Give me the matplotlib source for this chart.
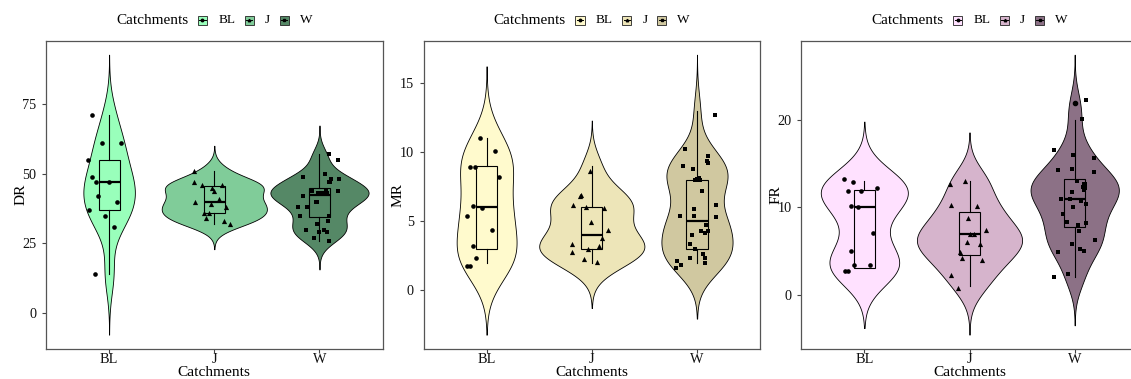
import numpy as np
import matplotlib
matplotlib.use('Agg')
import matplotlib.pyplot as plt
from matplotlib.patches import Rectangle
from matplotlib.lines import Line2D
from matplotlib.offsetbox import AnchoredOffsetbox, HPacker, TextArea, DrawingArea

plt.rcParams['font.family'] = ['Liberation Serif', 'DejaVu Serif']

# Data ~~~~~~~~~~~~~~~~~~~~~~~~~~~~~~~~~~~~~~~~~~~~~~~~~~~~~~~~~~~~~~~~~~~~~~~~~~~
groups = ['BL', 'J', 'W']
group_markers = ['o', '^', 's']

# DR (jx = horizontal jitter in category units)
dr_bl = [71, 61, 61, 55, 49, 47, 47, 42, 40, 37, 35, 31, 14]
dr_bl_jx = [-0.165, -0.064, 0.114, -0.197, -0.159, -0.127, 0.0, -0.108, 0.079, -0.19, -0.038, 0.05, -0.133]
dr_j = [51, 47, 46, 45, 44, 46, 41, 40, 39, 38, 36, 36, 34, 33, 32]
dr_j_jx = [-0.19, -0.19, -0.12, -0.02, 0.0, 0.07, 0.04, -0.18, -0.03, 0.11, -0.10, -0.05, -0.08, 0.09, 0.15]
dr_w = [57, 55, 50, 49, 48, 48, 47, 47, 44, 44, 44, 43, 43, 43, 43, 43,
        42, 40, 40, 40, 38, 38, 35, 35, 33, 32, 30, 30, 29, 29, 27, 26]
dr_w_jx = [0.095, 0.18, 0.05, -0.16, 0.11, 0.185, 0.09, 0.10, 0.064, 0.18, -0.07, -0.015, 0.01, 0.03, 0.057, 0.076,
           -0.16, -0.036, -0.03, -0.02, -0.114, -0.2, 0.095, -0.19, 0.085, -0.02, -0.125, 0.04, 0.0, 0.07, -0.05, 0.095]

# MR (jy = vertical jitter seen in the picture)
mr_bl = [11, 10, 9, 9, 8, 6, 6, 5, 4, 3, 2, 2, 2]
mr_bl_jx = [-0.06, 0.08, -0.16, -0.11, 0.117, -0.13, -0.04, -0.19, 0.053, -0.13, -0.10, -0.19, -0.16]
mr_bl_jy = [0.05, 0.1, -0.1, -0.1, 0.2, 0.08, -0.02, 0.35, 0.37, 0.23, 0.34, -0.24, -0.24]
mr_j = [9, 7, 7, 6, 6, 6, 5, 4, 4, 3, 3, 3, 3, 2, 2]
mr_j_jx = [-0.016, -0.11, -0.10, -0.175, -0.054, 0.114, -0.007, 0.152, 0.098, -0.188, 0.072, -0.032, -0.188, -0.076, 0.048]
mr_j_jy = [-0.34, -0.2, -0.1, 0.2, 0.05, -0.07, -0.06, 0.39, -0.19, 0.35, 0.2, 0.0, -0.2, 0.24, 0.05]
mr_w = [13, 10, 10, 9, 9, 9, 9, 8, 8, 8, 8, 8, 7, 6, 6, 5,
        5, 5, 5, 4, 4, 4, 4, 3, 3, 3, 2, 2, 2, 2, 2, 2]
mr_w_jx = [0.175, -0.11, 0.105, 0.095, 0.1, -0.133, -0.034, 0.02, 0.03, -0.015, 0.0, 0.02, 0.048, 0.178, -0.03, 0.185,
           -0.158, -0.03, 0.086, 0.035, 0.073, 0.105, -0.048, -0.067, -0.015, 0.06, -0.07, 0.073, 0.08, -0.193, -0.155, -0.196]
mr_w_jy = [-0.34, 0.2, -0.3, 0.38, 0.24, -0.03, -0.2, 0.13, 0.0, -0.02, 0.05, -0.05, 0.2, 0.17, -0.12, 0.28,
           0.38, 0.38, -0.25, 0.3, 0.12, 0.28, -0.02, 0.38, 0.0, -0.35, 0.34, 0.35, -0.02, 0.1, -0.14, -0.36]

# FR
fr_bl = [13, 13, 12, 12, 12, 10, 10, 7, 5, 3, 3, 3, 3]
fr_bl_jx = [-0.193, -0.105, -0.152, -0.031, 0.121, -0.127, -0.057, 0.086, -0.127, -0.1, 0.057, -0.187, -0.155]
fr_bl_jy = [0.25, -0.1, -0.13, -0.1, 0.18, 0.2, 0.1, 0.1, 0.03, 0.38, 0.38, -0.27, -0.27]
fr_j = [13, 13, 10, 10, 9, 7, 7, 7, 6, 6, 5, 4, 4, 2, 1]
fr_j_jx = [-0.044, -0.184, 0.076, -0.18, -0.016, 0.156, 0.0, 0.045, -0.025, 0.1, -0.095, -0.072, 0.118, -0.174, -0.114]
fr_j_jy = [0.0, -0.3, 0.2, 0.3, -0.24, 0.38, -0.1, 0.0, 0.03, -0.2, -0.16, 0.22, -0.08, 0.19, -0.27]
fr_w = [22, 20, 17, 16, 16, 14, 14, 14, 13, 13, 13, 12, 12, 12, 12, 11,
        11, 11, 10, 10, 9, 8, 8, 8, 7, 6, 6, 5, 5, 5, 2, 2]
fr_w_jx = [0.108, 0.07, -0.193, -0.013, 0.18, -0.16, -0.03, 0.184, 0.02, 0.09, 0.095, 0.08, 0.1, -0.025, 0.09, -0.13,
           -0.04, 0.057, 0.105, -0.016, -0.11, -0.07, 0.03, 0.105, 0.038, 0.19, -0.03, 0.054, 0.086, -0.155, -0.067, -0.193]
fr_w_jy = [0.3, 0.13, -0.38, -0.02, -0.33, 0.29, 0.36, 0.06, 0.0, -0.36, -0.3, 0.33, 0.18, -0.21, -0.05, 0.0,
           -0.05, -0.29, 0.38, 0.0, 0.25, 0.37, 0.0, 0.26, 0.3, 0.22, -0.16, 0.22, -0.05, -0.13, 0.3, 0.0]

dr_colors = ['#99ffbb', '#80cc99', '#558866']
mr_colors = ['#fffacd', '#ede5b8', '#d0c8a0']
fr_colors = ['#ffe1ff', '#d6b4cc', '#8c7186']

dr_ticks = [0, 25, 50, 75]
mr_ticks = [0, 5, 10, 15]
fr_ticks = [0, 10, 20]

panels = [
    ('DR', [dr_bl, dr_j, dr_w], [dr_bl_jx, dr_j_jx, dr_w_jx], None, dr_colors, dr_ticks),
    ('MR', [mr_bl, mr_j, mr_w], [mr_bl_jx, mr_j_jx, mr_w_jx], [mr_bl_jy, mr_j_jy, mr_w_jy], mr_colors, mr_ticks),
    ('FR', [fr_bl, fr_j, fr_w], [fr_bl_jx, fr_j_jx, fr_w_jx], [fr_bl_jy, fr_j_jy, fr_w_jy], fr_colors, fr_ticks),
]


# Helpers ~~~~~~~~~~~~~~~~~~~~~~~~~~~~~~~~~~~~~~~~~~~~~~~~~~~~~~~~~~~~~~~~~~~~~~~~
def bw_nrd0(x):
    # Silverman rule, same as R's default for violins
    q75, q25 = np.percentile(x, [75, 25])
    lo = min(np.std(x, ddof=1), (q75 - q25) / 1.34)
    return 0.9 * lo * len(x) ** -0.2


def kde(x):
    x = np.asarray(x, float)
    bw = bw_nrd0(x)
    grid = np.linspace(x.min() - 3 * bw, x.max() + 3 * bw, 512)
    z = (grid[:, None] - x[None, :]) / bw
    dens = np.exp(-0.5 * z ** 2).sum(axis=1) / (len(x) * bw * np.sqrt(2 * np.pi))
    return grid, dens


def legend_row(fig, ax, colors):
    items = [TextArea('Catchments', textprops=dict(fontsize=11, color='black'))]
    for g, c, m in zip(groups, colors, group_markers):
        da = DrawingArea(6.5, 6.5, 0, 0)
        da.add_artist(Rectangle((0, 0), 6.5, 6.5, facecolor=c, edgecolor='#222222', lw=0.6))
        da.add_artist(Line2D([1.0, 5.5], [3.25, 3.25], color='black', lw=0.7))
        da.add_artist(Line2D([3.25], [3.25], marker=m, color='black', ms=1.8, lw=0))
        txt = TextArea(g, textprops=dict(fontsize=9.5, color='black'))
        items.append(HPacker(children=[da, txt], sep=8, align='center', pad=0))
    row = HPacker(children=items, sep=7, align='center', pad=0)
    ab = AnchoredOffsetbox(loc='center', child=row, pad=0, borderpad=0, frameon=False,
                           bbox_to_anchor=(0.5, 1.0656), bbox_transform=ax.transAxes)
    fig.add_artist(ab)


# Figure ~~~~~~~~~~~~~~~~~~~~~~~~~~~~~~~~~~~~~~~~~~~~~~~~~~~~~~~~~~~~~~~~~~~~~~~~~
W, H = 1131, 379
fig = plt.figure(figsize=(W / 100, H / 100), dpi=100)
lefts = [46, 423.5, 801.2]
axw, axh = 336.6, 308
ax_bottom = 379 - 348.7

positions = [1, 2, 3]
for (name, data, jxs, jys, colors, ticks), left in zip(panels, lefts):
    ax = fig.add_axes([left / W, ax_bottom / H, axw / W, axh / H])

    # violins, all scaled to the same area (widest = 1 category unit)
    dens = [kde(d) for d in data]
    dmax = max(d.max() for _, d in dens)
    for pos, (grid, d), c in zip(positions, dens, colors):
        hw = 0.5 * d / dmax
        ax.fill_betweenx(grid, pos - hw, pos + hw, facecolor=c, edgecolor='black', lw=0.6, zorder=1)

    # boxes
    bp = ax.boxplot(data, positions=positions, widths=0.2, patch_artist=True, showcaps=False,
                    medianprops=dict(color='black', lw=1.6),
                    boxprops=dict(edgecolor='black', lw=0.8),
                    whiskerprops=dict(color='black', lw=0.8),
                    flierprops=dict(marker='o', markerfacecolor='black', markeredgecolor='black',
                                    markersize=3),
                    zorder=2)
    for patch, c in zip(bp['boxes'], colors):
        patch.set_facecolor(c)

    # jittered points
    for i, (pos, d, jx, m) in enumerate(zip(positions, data, jxs, group_markers)):
        jy = jys[i] if jys is not None else np.zeros(len(d))
        ax.scatter(pos + np.array(jx), np.array(d) + np.array(jy), marker=m, s=11 if m != '^' else 14,
                   color='black', linewidths=0, zorder=3)

    lo = min(g.min() for g, _ in dens)
    hi = max(g.max() for g, _ in dens)
    span = hi - lo
    ax.set_ylim(lo - 0.05 * span, hi + 0.05 * span)
    ax.set_xlim(0.4, 3.6)
    ax.set_xticks(positions)
    ax.set_xticklabels(groups)
    ax.set_yticks(ticks)
    ax.set_yticklabels([str(t) for t in ticks])

    for sp in ax.spines.values():
        sp.set_color('#555555')
        sp.set_linewidth(0.9)
    ax.tick_params(axis='both', length=2.9, width=0.8, color='#444444', labelsize=10.3, labelcolor='#111111')
    ax.tick_params(axis='x', pad=0.5)
    ax.tick_params(axis='y', pad=4)

    ax.set_xlabel('Catchments', fontsize=11.1, labelpad=0)
    ax.set_ylabel(name, fontsize=11.1)
    ax.yaxis.set_label_coords(-0.056, 0.5)

    legend_row(fig, ax, colors)

fig.savefig('out.png', dpi=100)
